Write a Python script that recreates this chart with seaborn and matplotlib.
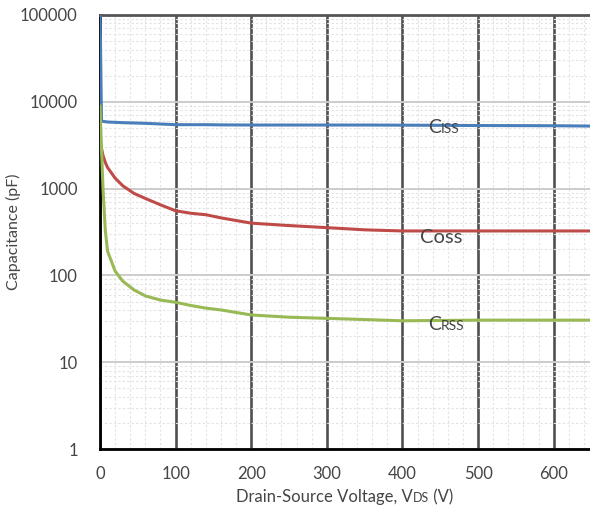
import matplotlib
matplotlib.use("Agg")
import matplotlib.pyplot as plt
import matplotlib.ticker as mticker
import pandas as pd
import seaborn as sns

# drain-source voltage (V)
vds = [0, 2, 4, 7, 10, 20, 30, 45, 60, 80, 100, 120, 140, 160, 200, 250, 300, 350, 400, 500, 600, 650]
# capacitances (pF)
ciss = [120000, 6000, 5950, 5900, 5850, 5800, 5750, 5700, 5650, 5550, 5450, 5450, 5450, 5420,
        5400, 5400, 5400, 5400, 5380, 5330, 5300, 5250]
coss = [3800, 2900, 2400, 2000, 1750, 1320, 1080, 880, 770, 650, 555, 520, 500, 460,
        400, 375, 355, 335, 325, 325, 325, 325]
crss = [9000, 2800, 1000, 330, 190, 112, 86, 68, 58, 52, 49, 45, 42, 40,
        35, 33, 32, 31, 30, 30.5, 30.5, 30.5]

series_names = ["Ciss", "Coss", "Crss"]
series_colors = ["#4a7ebb", "#be4b48", "#98b954"]
x_ticks = [0, 100, 200, 300, 400, 500, 600]
y_ticks = [1, 10, 100, 1000, 10000, 100000]

df = pd.DataFrame({"Vds": vds * 3,
                   "C": ciss + coss + crss,
                   "series": sum([[n] * len(vds) for n in series_names], [])})

sns.set_style("white")
plt.rcParams["font.family"] = ["Lato", "DejaVu Sans"]
txt = "#454545"

fig = plt.figure(figsize=(5.9, 5.09), dpi=100)
ax = fig.add_axes([100 / 590, 1 - 449 / 509, 490 / 590, 434 / 509])
ax.set_yscale("log")

sns.lineplot(data=df, x="Vds", y="C", hue="series", palette=series_colors,
             linewidth=2.2, legend=False, ax=ax, zorder=5, sort=False)

ax.set_xlim(0, 648)
ax.set_ylim(1, 100000)
ax.set_xticks(x_ticks)
ax.set_yticks(y_ticks)
ax.set_yticklabels([str(v) for v in y_ticks])
ax.xaxis.set_minor_locator(mticker.MultipleLocator(20))
ax.yaxis.set_minor_locator(mticker.LogLocator(base=10, subs=range(2, 10), numticks=20))
ax.yaxis.set_minor_formatter(mticker.NullFormatter())

ax.grid(which="major", axis="x", color="#505050", lw=1.9, zorder=1)
ax.grid(which="major", axis="y", color="#cccccc", lw=1.4, zorder=1)
ax.grid(which="minor", axis="both", color="#e2e2e2", lw=0.8, ls=(0, (2, 2)), zorder=0)

ax.tick_params(axis="both", which="major", direction="in", length=6, width=1.5,
               color="black", labelsize=12, labelcolor=txt)
ax.tick_params(axis="both", which="minor", direction="in", length=4, width=1.2, color="black")
ax.tick_params(axis="x", which="major", pad=12)
ax.tick_params(axis="y", which="major", pad=16)

for side in ["left", "bottom"]:
    ax.spines[side].set_color("black")
    ax.spines[side].set_linewidth(2)
ax.spines["top"].set_color("#555555")
ax.spines["top"].set_linewidth(2)
ax.spines["right"].set_visible(False)

ax.set_xlabel("")
ax.set_ylabel("")
fig.text(13 / 590, 1 - 232 / 509, "Capacitance (pF)", rotation=90, fontsize=11.5,
         color=txt, ha="center", va="center")

renderer = fig.canvas.get_renderer()


def pieces(x, y, parts, transform, ha="left"):
    # place consecutive text parts of different sizes on one baseline
    objs = [fig.text(0, 0, s, fontsize=size, color=txt, va="baseline") for s, size in parts]
    widths = [o.get_window_extent(renderer).width for o in objs]
    px, py = transform.transform((x, y))
    if ha == "center":
        px -= sum(widths) / 2
    for o, w in zip(objs, widths):
        o.set_position(fig.transFigure.inverted().transform((px, py)))
        px += w
    return objs


pieces(434, 4370, [("C", 14), ("ISS", 10)], ax.transData)
pieces(423, 236, [("Coss", 14.5)], ax.transData)
pieces(434, 23.5, [("C", 14), ("RSS", 10)], ax.transData)

# x axis title, pixel position in the figure
pieces(345, 7, [("Drain-Source Voltage, V", 12), ("DS", 9), (" (V)", 12)],
       matplotlib.transforms.IdentityTransform(), ha="center")

fig.savefig("out.png", dpi=100)
